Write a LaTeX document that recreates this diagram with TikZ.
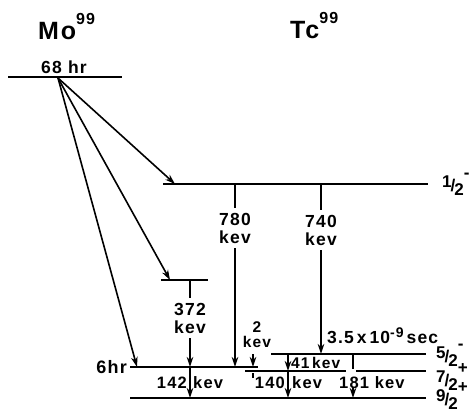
\documentclass[tikz,border=0pt]{standalone}
\usepackage{fontspec}
\usetikzlibrary{arrows.meta}
\newfontfamily\lf{Liberation Sans}[LetterSpace=7]
\newcommand\fsz[1]{\fontsize{#1}{#1}\selectfont}
\newcommand\spinlab[3]{\raisebox{4pt}{#1}\kern-1pt/\kern-1pt\raisebox{-4pt}{#2}\raisebox{13pt}{#3}}
\begin{document}
\begin{tikzpicture}[x=1pt,y=-1pt,
  lvl/.style={line width=2.3pt},
  ln/.style={line width=1.6pt},
  arr/.style={ln,-{Stealth[length=10pt,width=6.5pt,inset=3pt]}},
  lab/.style={inner sep=0pt,font=\lf\bfseries\fsz{16.5}},
  lab2/.style={inner sep=5pt,align=center,font=\lf\bfseries\fontsize{17.5}{18}\selectfont},
  small/.style={inner sep=0pt,font=\lf\bfseries\fsz{15.5}},
  spin/.style={inner sep=0pt,anchor=west,font=\lf\bfseries\fsz{17}}]
\useasboundingbox (0,0) rectangle (472,413);
% titles
\node[inner sep=0pt,anchor=base west,font=\lf\bfseries\fsz{25}] (mo) at (38,39) {Mo\raisebox{15pt}{\fsz{16}99}};
\node[inner sep=0pt,anchor=base west,font=\lf\bfseries\fsz{25}] (tc) at (290,38) {Tc\raisebox{15pt}{\fsz{16}99}};
% levels
\coordinate (moL) at (8,77);   \coordinate (moR) at (122,77);
\coordinate (aL) at (163,184); \coordinate (aR) at (428,184);
\coordinate (bL) at (161,280); \coordinate (bR) at (208,280);
\coordinate (cL) at (130,367); \coordinate (cR) at (258,367);
\coordinate (dL) at (271,354); \coordinate (dR) at (426,354);
\coordinate (eL) at (245,371); \coordinate (eM) at (346,371);
\coordinate (eN) at (356,371); \coordinate (eR) at (426,371);
\coordinate (gL) at (130,398); \coordinate (gR) at (426,398);
\foreach \a/\b in {moL/moR,aL/aR,bL/bR,cL/cR,dL/dR,eL/eM,eN/eR,gL/gR}
  \draw[lvl] (\a) -- (\b);
% level labels
\node[lab,font=\lf\bfseries\fsz{17.5}] (hr68) at (64,67) {68 hr};
\node[lab,anchor=east,font=\lf\bfseries\fsz{18}] (hr6) at (127,367) {6hr};
\node[spin] (s1) at (442,184) {\spinlab{1}{2}{-}};
\node[spin] (s5) at (436,355) {\spinlab{5}{2}{-}};
\node[spin] (s7) at (436,377) {\spinlab{7}{2}{+}};
\node[spin] (s9) at (436,396) {\spinlab{9}{2}{+}};
\node[inner sep=0pt,anchor=base west,font=\lf\bfseries\fsz{17.5}] (life) at (327,343) {3.5\,x\,10\raisebox{6pt}{\fsz{14}-9}\,sec};
% beta decays from Mo
\coordinate (src) at (58,78);
\coordinate (ta) at (175,184);
\coordinate (tb) at (170,280);
\coordinate (tc) at (137,367);
\draw[arr] (src) -- (ta);
\draw[arr] (src) -- (tb);
\draw[arr] (src) -- (tc);
% gamma transitions
\node[lab2] (n780) at (235,228) {780\\kev};
\draw[ln] (n780 |- aL) -- (n780.north);
\draw[arr] (n780.south) -- (n780 |- cL);
\node[lab2] (n740) at (321,230) {740\\kev};
\draw[ln] (n740 |- aL) -- (n740.north);
\draw[arr] (n740.south) -- (n740 |- dL);
\node[lab2] (n372) at (190,318) {372\\kev};
\draw[ln] (n372 |- bL) -- (n372.north);
\draw[arr] (n372.south) -- (n372 |- cL);
\coordinate (x142) at (190,367);
\draw[arr] (x142) -- (x142 |- gL);
\node[lab,anchor=east] (l142) at (187,383) {142};
\node[lab,anchor=west] (k142) at (193,383) {kev};
% 2 kev
\node[small,align=center,font=\lf\bfseries\fontsize{15.5}{15}\selectfont] (n2) at (257,335) {2\\kev};
\coordinate (x2) at (253,354);
\draw[arr] (x2) -- (x2 |- cL);
\coordinate (t2a) at (253,373); \coordinate (t2b) at (253,378);
\draw[ln] (t2a) -- (t2b);
% 41 and 140 kev
\coordinate (x41) at (288,354);
\draw[arr] (x41) -- (x41 |- eL);
\coordinate (x140) at (288,371);
\draw[arr] (x140) -- (x140 |- gL);
\node[small,anchor=west] (l41) at (291,363) {41\,kev};
\node[lab,anchor=east] (l140) at (285,383) {140};
\node[lab,anchor=west] (k140) at (292,383) {kev};
% 181 kev
\coordinate (x181) at (353,354); \coordinate (y181) at (353,369);
\draw[ln] (x181) -- (y181);
\coordinate (z181) at (353,387);
\draw[arr] (z181) -- (z181 |- gL);
\node[lab,anchor=west] (l181) at (339,383) {181 kev};
\end{tikzpicture}
\end{document}
